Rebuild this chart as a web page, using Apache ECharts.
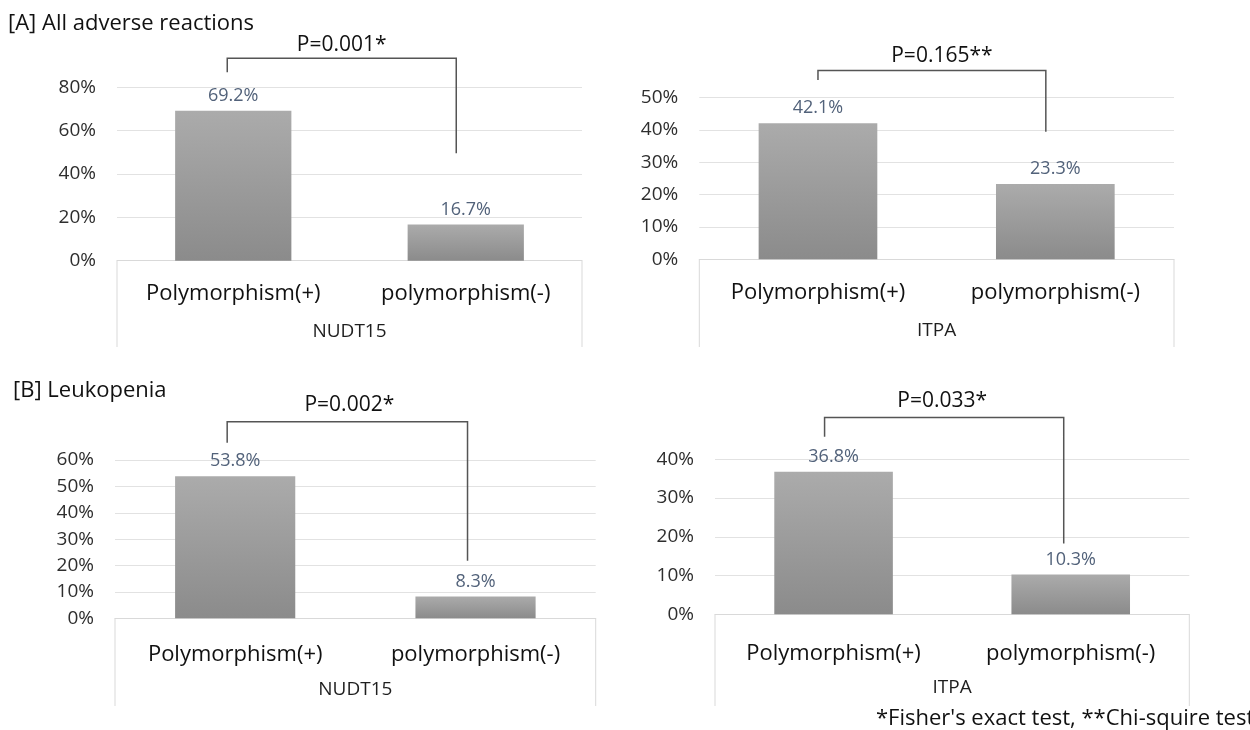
<!DOCTYPE html>
<html>
<head>
<meta charset="utf-8">
<script src="https://cdn.jsdelivr.net/npm/echarts@6/dist/echarts.min.js"></script>
<style>
  html, body { margin: 0; padding: 0; background: #ffffff; }
  #chart { width: 1250px; height: 730px; }
</style>
</head>
<body>
<div id="chart"></div>
<script>
// ---- data ----
const categories = ['Polymorphism(+)', 'polymorphism(-)'];
const genes = ['NUDT15', 'ITPA', 'NUDT15', 'ITPA'];
const allAdverseNUDT15 = [69.2, 16.7];
const allAdverseITPA = [42.1, 23.3];
const leukopeniaNUDT15 = [53.8, 8.3];
const leukopeniaITPA = [36.8, 10.3];
const pValueLabels = ['P=0.001*', 'P=0.165**', 'P=0.002*', 'P=0.033*'];
const yMax = [80, 50, 60, 40];
const yStep = [20, 10, 10, 10];
const sectionTitles = ['[A] All adverse reactions', '[B] Leukopenia'];
const footnote = "*Fisher's exact test, **Chi-squire test";

const seriesValues = [allAdverseNUDT15, allAdverseITPA, leukopeniaNUDT15, leukopeniaITPA];

// ---- layout of the four panels (pixels) and bracket levels (axis units) ----
const FONT = '"Open Sans", "Noto Sans", sans-serif';
const panels = [
  { grid: { left: 117, top: 87.3, width: 465, height: 173.4 }, labelMargin: 22, nameGap: 61, boxBottom: 347,
    bracket: { top: 93.4, leftEnd: 86.9, rightEnd: 49.6, dxL: -6, dxR: -9.5, textDx: 0, textDy: -13 } },
  { grid: { left: 699.3, top: 97.7, width: 474.7, height: 161.6 }, labelMargin: 22, nameGap: 62, boxBottom: 347,
    bracket: { top: 58.4, leftEnd: 55.5, rightEnd: 39.5, dxL: 0, dxR: -9.5, textDx: 10, textDy: -15 } },
  { grid: { left: 115, top: 460, width: 480.7, height: 158.3 }, labelMargin: 25, nameGap: 62, boxBottom: 706,
    bracket: { top: 74.5, leftEnd: 66.5, rightEnd: 21.8, dxL: -8, dxR: -8, textDx: 2, textDy: -17 } },
  { grid: { left: 715, top: 459.3, width: 474.3, height: 155 }, labelMargin: 28, nameGap: 64, boxBottom: 706,
    bracket: { top: 50.8, leftEnd: 45.8, rightEnd: 18.3, dxL: -9, dxR: -7, textDx: -2, textDy: -16 } }
];

const barGradient = new echarts.graphic.LinearGradient(0, 0, 0, 1, [
  { offset: 0, color: '#ababab' },
  { offset: 1, color: '#8b8b8b' }
]);

const option = {
  backgroundColor: '#ffffff',
  animation: false,
  textStyle: { fontFamily: FONT },
  grid: panels.map(p => Object.assign({ containLabel: false }, p.grid)),
  xAxis: panels.map((p, i) => ({
    type: 'category',
    gridIndex: i,
    data: categories,
    name: genes[i],
    nameLocation: 'middle',
    nameGap: p.nameGap,
    nameTextStyle: { fontFamily: FONT, fontSize: 19, color: '#1f1f1f' },
    axisLine: { show: true, lineStyle: { color: '#d9d9d9', width: 1 } },
    axisTick: { show: false },
    axisLabel: { fontFamily: FONT, fontSize: 22, color: '#111111', margin: p.labelMargin, interval: 0 }
  })),
  yAxis: panels.map((p, i) => ({
    type: 'value',
    gridIndex: i,
    min: 0,
    max: yMax[i],
    interval: yStep[i],
    axisLine: { show: false },
    axisTick: { show: false },
    splitLine: { lineStyle: { color: '#e2e2e2', width: 1 } },
    axisLabel: { fontFamily: FONT, fontSize: 19, color: '#2e2e2e', margin: 21, formatter: '{value}%' }
  })),
  series: seriesValues.map((vals, i) => ({
    type: 'bar',
    xAxisIndex: i,
    yAxisIndex: i,
    data: vals,
    barWidth: '50%',
    itemStyle: { color: barGradient },
    label: {
      show: true,
      position: 'top',
      distance: 6,
      fontFamily: FONT,
      fontSize: 18,
      color: '#52627a',
      formatter: p => p.value.toFixed(1) + '%'
    }
  }))
};

const chart = echarts.init(document.getElementById('chart'), null, { renderer: 'canvas' });
chart.setOption(option);

// ---- annotations: category boxes, significance brackets, titles ----
const graphics = [];
const boxLine = { stroke: '#d9d9d9', lineWidth: 1 };
const bracketLine = { stroke: '#555555', lineWidth: 1.5 };

panels.forEach((p, i) => {
  const g = p.grid;
  const axisY = g.top + g.height;
  [g.left, g.left + g.width].forEach(x => {
    graphics.push({ type: 'line', silent: true,
      shape: { x1: x, y1: axisY, x2: x, y2: p.boxBottom }, style: boxLine });
  });

  const b = p.bracket;
  const pos = (cat, v) => chart.convertToPixel({ xAxisIndex: i, yAxisIndex: i }, [cat, v]);
  const [xL, yTop] = pos(0, b.top);
  const [xR] = pos(1, b.top);
  const [, yL] = pos(0, b.leftEnd);
  const [, yR] = pos(1, b.rightEnd);
  const x1 = xL + b.dxL, x2 = xR + b.dxR;
  graphics.push({ type: 'polyline', silent: true,
    shape: { points: [[x1, yL], [x1, yTop], [x2, yTop], [x2, yR]] },
    style: Object.assign({ fill: null }, bracketLine) });
  graphics.push({ type: 'text', silent: true, x: (x1 + x2) / 2 + b.textDx, y: yTop + b.textDy,
    style: { text: pValueLabels[i], font: '21px ' + FONT, fill: '#111111',
      textAlign: 'center', textVerticalAlign: 'middle', align: 'center', verticalAlign: 'middle' } });
});

const texts = [
  { text: sectionTitles[0], x: 8, y: 24, size: 22 },
  { text: sectionTitles[1], x: 13, y: 390.7, size: 22 },
  { text: footnote, x: 876, y: 719, size: 22 }
];
texts.forEach(t => {
  graphics.push({ type: 'text', silent: true, x: t.x, y: t.y,
    style: { text: t.text, font: t.size + 'px ' + FONT, fill: '#111111',
      textAlign: 'left', textVerticalAlign: 'middle', align: 'left', verticalAlign: 'middle' } });
});

chart.setOption({ graphic: graphics });
</script>
</body>
</html>
